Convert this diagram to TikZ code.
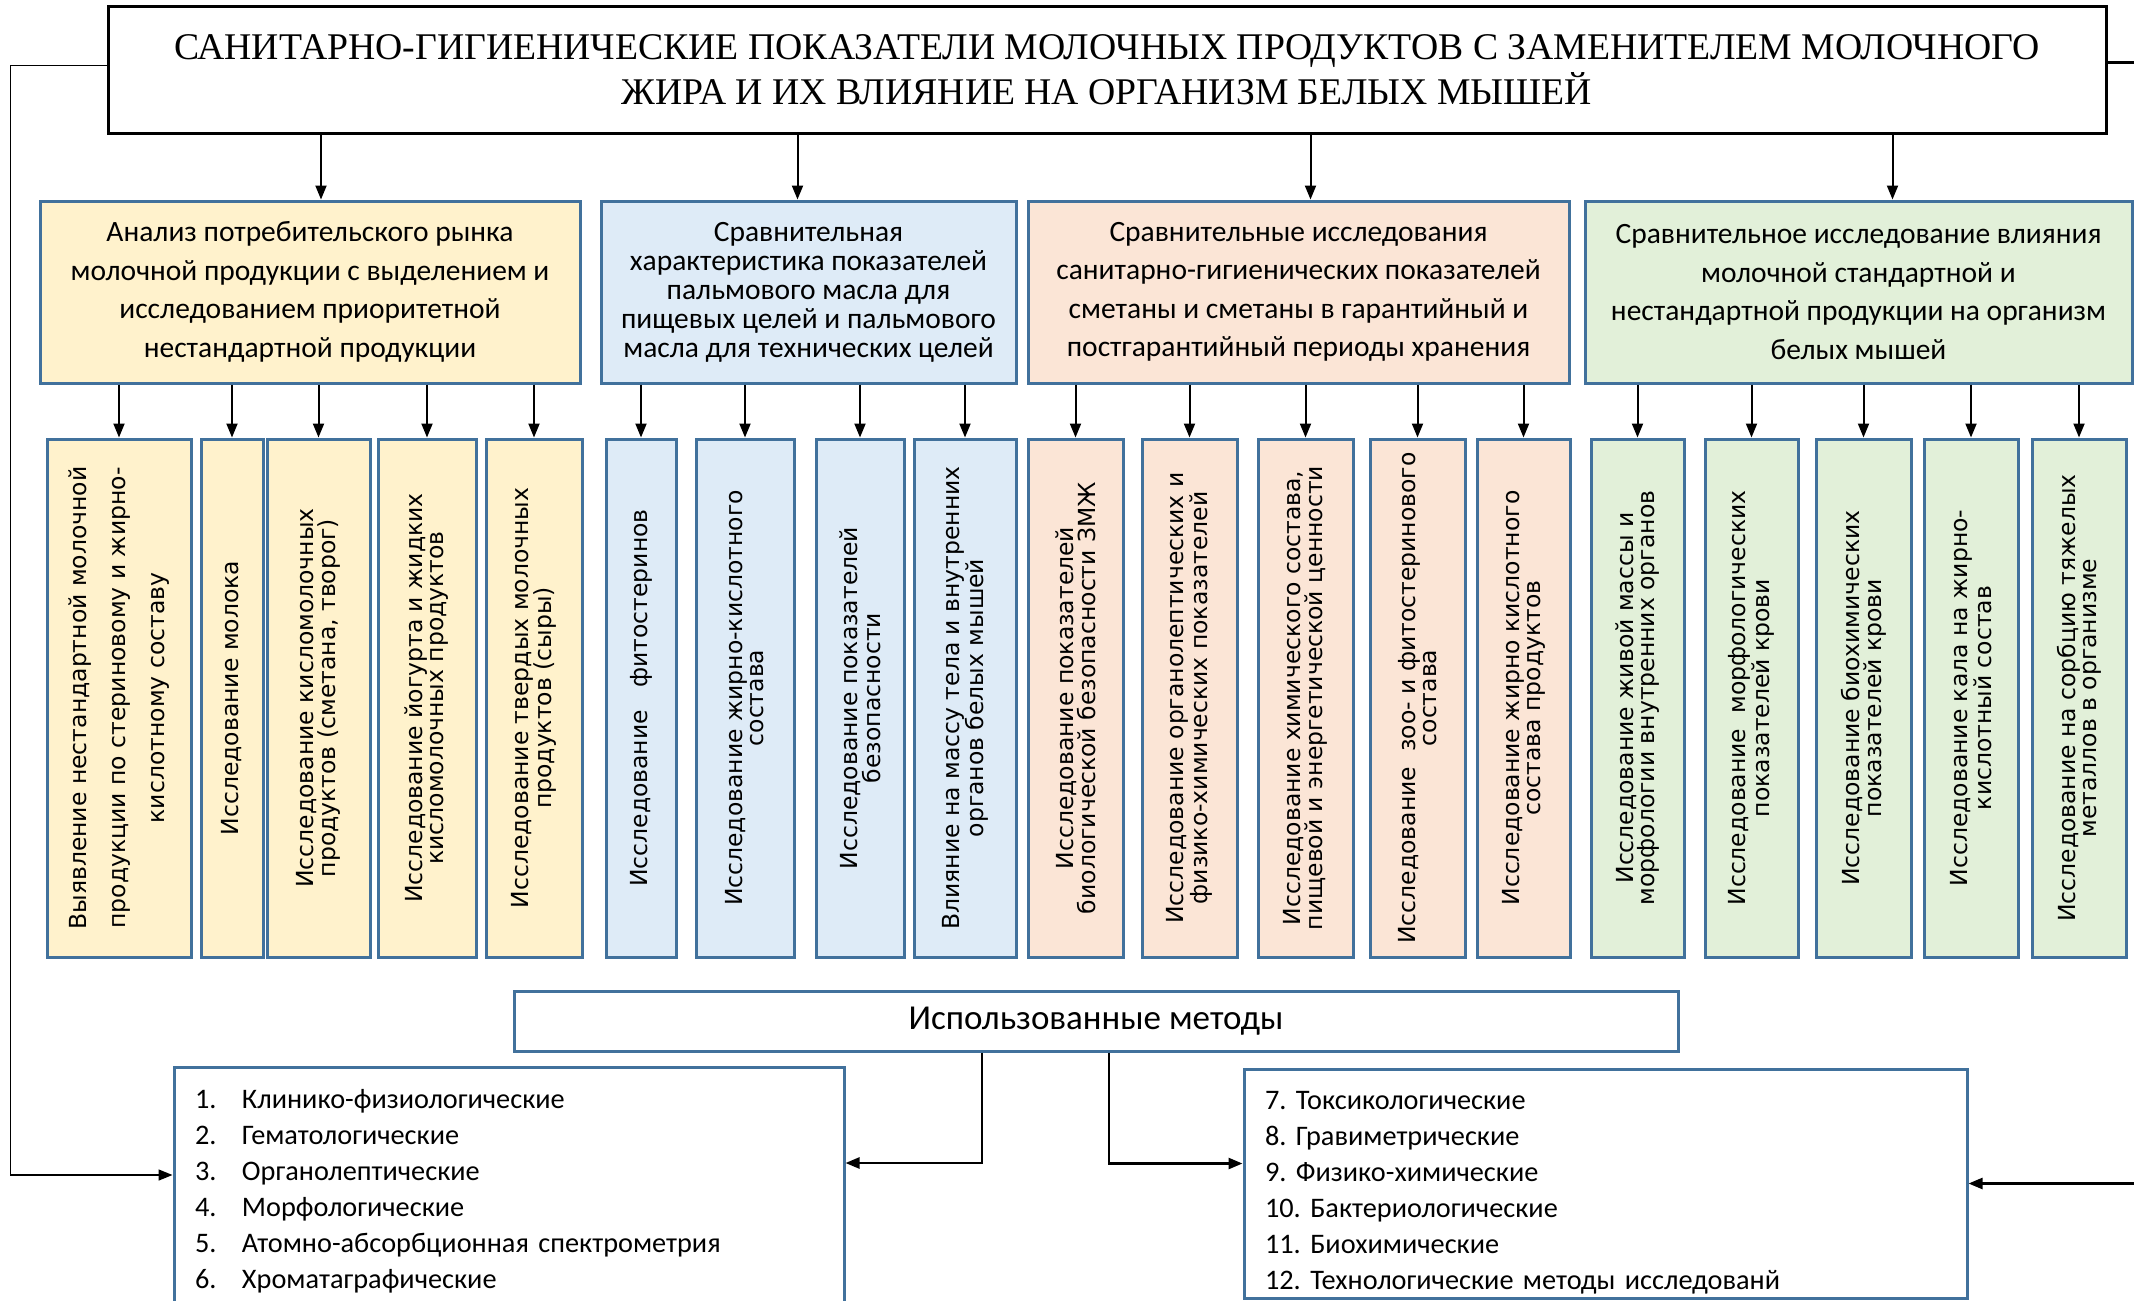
\documentclass[tikz,border=0pt]{standalone}
\usepackage{fontspec}
\setmainfont{Carlito}
\newfontfamily\titlefont{Liberation Serif}
\newfontfamily\vfont{DejaVu Sans}
\usetikzlibrary{positioning,arrows.meta,calc}
\definecolor{yel}{HTML}{FFF2CC}
\definecolor{blu}{HTML}{DEEBF7}
\definecolor{pch}{HTML}{FBE5D6}
\definecolor{grn}{HTML}{E2F0D9}
\definecolor{edge}{HTML}{41719C}
\frenchspacing
\begin{document}
\begin{tikzpicture}[x=1pt,y=-1pt,
  arr/.style={-{Triangle[length=14pt,width=11pt]},line width=2pt},
  grp/.style={draw=edge,line width=3pt,fill=#1,minimum height=182pt,inner sep=0pt,align=center,font=\fontsize{29.5}{38.5}\selectfont},
  sbox/.style={draw=edge,line width=3pt,fill=#1,rotate=90,minimum width=518pt,inner sep=0pt,align=center,font=\vfont\fontsize{23.5}{21}\selectfont},
  mbox/.style={draw=edge,line width=3pt,inner ysep=0pt,inner xsep=21pt,align=left,font=\fontsize{28.3}{36}\selectfont}]
  \fill[white] (0,0) rectangle (2134,1301);
  \useasboundingbox (0,0) rectangle (2134,1301);

  \node[draw,line width=3pt,minimum width=1998pt,minimum height=127pt,align=center,font=\titlefont\fontsize{37.7}{45}\selectfont] (title) at (1107,69.5) {САНИТАРНО-ГИГИЕНИЧЕСКИЕ ПОКАЗАТЕЛИ МОЛОЧНЫХ ПРОДУКТОВ С ЗАМЕНИТЕЛЕМ МОЛОЧНОГО\\ЖИРА И ИХ ВЛИЯНИЕ НА ОРГАНИЗМ БЕЛЫХ МЫШЕЙ};

  \node[grp=yel,minimum width=540pt] (g1) at (310,292) {Анализ потребительского рынка\\молочной продукции с выделением и\\исследованием приоритетной\\нестандартной продукции};
  \node[grp=blu,minimum width=415pt,font=\fontsize{29.5}{29}\selectfont] (g2) at (808.5,292) {Сравнительная\\характеристика показателей\\пальмового масла для\\пищевых целей и пальмового\\масла для технических целей};
  \node[grp=pch,minimum width=541pt] (g3) at (1298.5,292) {Сравнительные исследования\\санитарно-гигиенических показателей\\сметаны и сметаны в гарантийный и\\постгарантийный периоды хранения};
  \node[grp=grn,minimum width=547pt] (g4) at (1858.5,292) {Сравнительное исследование влияния\\молочной стандартной и\\нестандартной продукции на организм\\белых мышей};

  % rotated boxes: east is the top side
  \node[sbox=yel,minimum height=144pt,font=\vfont\fontsize{23.5}{39}\selectfont] (b1) at (119,698) {Выявление нестандартной молочной\\продукции по стериновому и жирно-\\кислотному составу};
  \node[sbox=yel,minimum height=62pt] (b2) at (232,698) {Исследование молока};
  \node[sbox=yel,minimum height=103pt] (b3) at (318.5,698) {Исследование кисломолочных\\продуктов (сметана, творог)};
  \node[sbox=yel,minimum height=98pt] (b4) at (427,698) {Исследование йогурта и жидких\\кисломолочных продуктов};
  \node[sbox=yel,minimum height=96pt] (b5) at (534,698) {Исследование твердых молочных\\продуктов (сыры)};

  \node[sbox=blu,minimum height=70pt] (b6) at (641,698) {Исследование\ \ \ фитостеринов};
  \node[sbox=blu,minimum height=98pt] (b7) at (745,698) {Исследование жирно-кислотного\\состава};
  \node[sbox=blu,minimum height=88pt] (b8) at (860,698) {Исследование показателей\\безопасности};
  \node[sbox=blu,minimum height=102pt] (b9) at (965,698) {Влияние на массу тела и внутренних\\органов белых мышей};

  \node[sbox=pch,minimum height=95pt] (b10) at (1075.5,698) {Исследование показателей\\биологической безопасности ЗМЖ};
  \node[sbox=pch,minimum height=95pt] (b11) at (1189.5,698) {Исследование органолептических и\\физико-химических показателей};
  \node[sbox=pch,minimum height=95pt] (b12) at (1305.5,698) {Исследование химического состава,\\пищевой и энергетической ценности};
  \node[sbox=pch,minimum height=95pt] (b13) at (1417.5,698) {Исследование\ \ зоо- и фитостеринового\\состава};
  \node[sbox=pch,minimum height=93pt] (b14) at (1523.5,698) {Исследование жирно кислотного\\состава продуктов};

  \node[sbox=grn,minimum height=93pt] (b15) at (1637.5,698) {Исследование живой массы и\\морфологии внутренних органов};
  \node[sbox=grn,minimum height=93pt] (b16) at (1751.5,698) {Исследование\ \ морфологических\\показателей крови};
  \node[sbox=grn,minimum height=95pt] (b17) at (1863.5,698) {Исследование биохимических\\показателей крови};
  \node[sbox=grn,minimum height=94pt] (b18) at (1971,698) {Исследование кала на жирно-\\кислотный состав};
  \node[sbox=grn,minimum height=94pt] (b19) at (2079,698) {Исследование на сорбцию тяжелых\\металлов в организме};

  \node[draw=edge,line width=3pt,minimum width=1164pt,minimum height=60pt,font=\fontsize{35}{36}\selectfont] (metody) at (1096,1021) {Использованные методы};
  \node[mbox,text width=628pt,minimum height=248pt] (m1) at (509,1191) {\makebox[47pt][l]{1.}Клинико-физиологические\\\makebox[47pt][l]{2.}Гематологические\\\makebox[47pt][l]{3.}Органолептические\\\makebox[47pt][l]{4.}Морфологические\\\makebox[47pt][l]{5.}Атомно-абсорбционная спектрометрия\\\makebox[47pt][l]{6.}Хроматаграфические};
  \node[mbox,text width=681pt,minimum height=229pt] (m2) at (1605.5,1183.5) {\rule{0pt}{37pt}7. Токсикологические\\8. Гравиметрические\\9. Физико-химические\\10. Бактериологические\\11. Биохимические\\12. Технологические методы исследованй};

  \draw[arr] ([xshift=11pt]title.south -| g1.north) -- ([xshift=11pt]g1.north);
  \draw[arr] ([xshift=-11pt]title.south -| g2.north) -- ([xshift=-11pt]g2.north);
  \draw[arr] ([xshift=12pt]title.south -| g3.north) -- ([xshift=12pt]g3.north);
  \draw[arr] ([xshift=34pt]title.south -| g4.north) -- ([xshift=34pt]g4.north);

  \draw[arr] (g1.south -| b1.east) -- (b1.east);
  \draw[arr] (g1.south -| b2.east) -- (b2.east);
  \draw[arr] (g1.south -| b3.east) -- (b3.east);
  \draw[arr] (g1.south -| b4.east) -- (b4.east);
  \draw[arr] (g1.south -| b5.east) -- (b5.east);
  \draw[arr] (g2.south -| b6.east) -- (b6.east);
  \draw[arr] (g2.south -| b7.east) -- (b7.east);
  \draw[arr] (g2.south -| b8.east) -- (b8.east);
  \draw[arr] (g2.south -| b9.east) -- (b9.east);
  \draw[arr] (g3.south -| b10.east) -- (b10.east);
  \draw[arr] (g3.south -| b11.east) -- (b11.east);
  \draw[arr] (g3.south -| b12.east) -- (b12.east);
  \draw[arr] (g3.south -| b13.east) -- (b13.east);
  \draw[arr] (g3.south -| b14.east) -- (b14.east);
  \draw[arr] (g4.south -| b15.east) -- (b15.east);
  \draw[arr] (g4.south -| b16.east) -- (b16.east);
  \draw[arr] (g4.south -| b17.east) -- (b17.east);
  \draw[arr] (g4.south -| b18.east) -- (b18.east);
  \draw[arr] (g4.south -| b19.east) -- (b19.east);

  \draw[arr,line width=2.5pt] ([xshift=-114pt]metody.south) |- ([yshift=28pt]m1.east);
  \draw[arr,line width=2.5pt] ([xshift=13pt]metody.south) |- ([yshift=20pt]m2.west);
  \draw[arr,line width=1.5pt] ([yshift=4pt]title.west) -- ++(-96,0) |- ([yshift=16pt]m1.west);
  \draw[arr,line width=2.5pt] ([yshift=7pt]title.east) -- ++(60,0) |- (m2.east);
\end{tikzpicture}
\end{document}
